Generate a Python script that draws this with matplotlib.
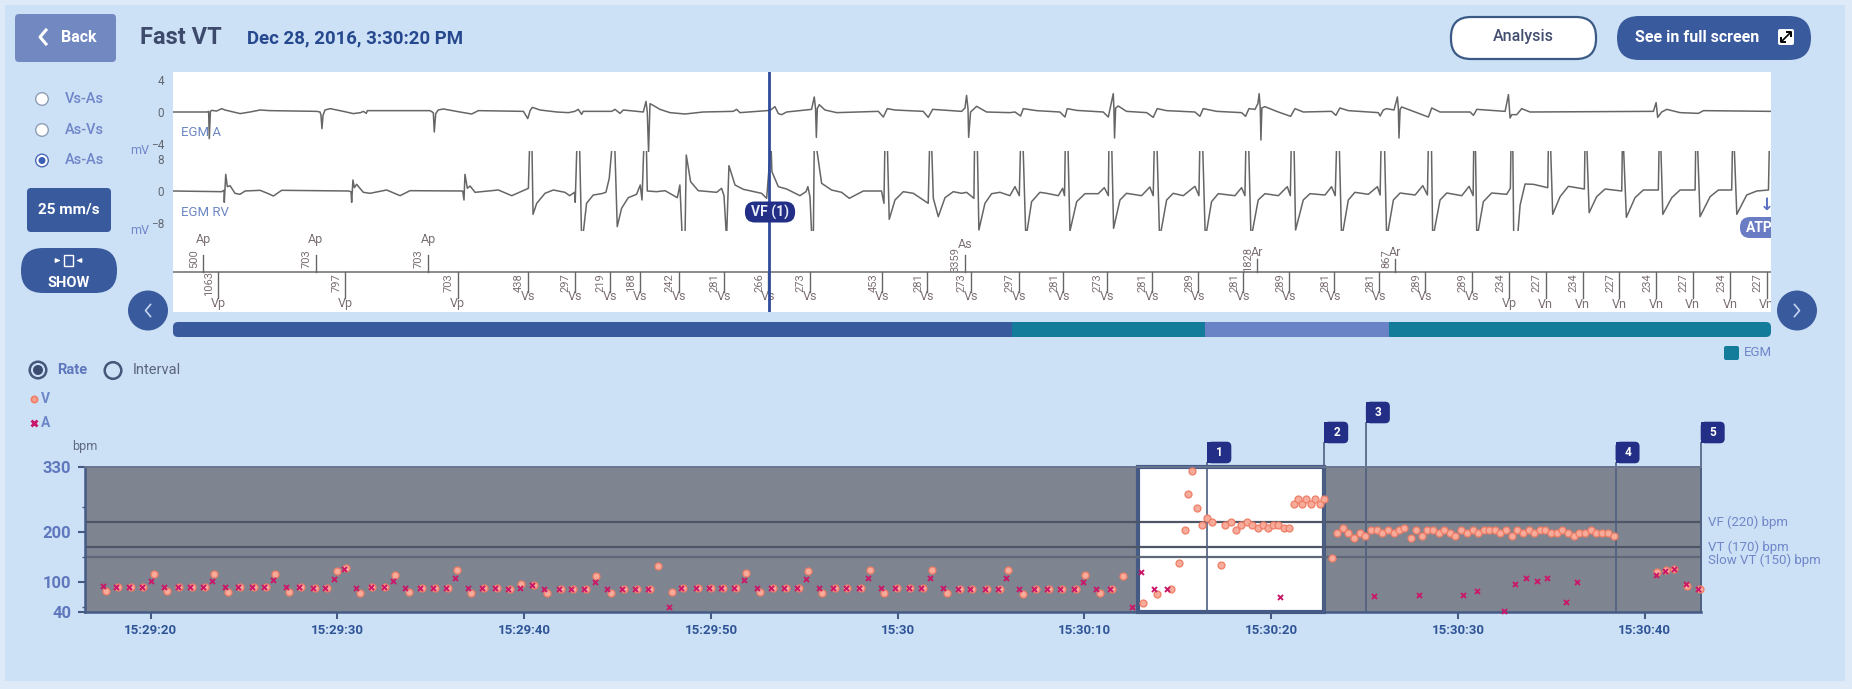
import matplotlib
matplotlib.use("Agg")
import matplotlib.pyplot as plt
from matplotlib.patches import FancyBboxPatch, Circle, Rectangle

plt.rcParams['font.family'] = ['Roboto', 'DejaVu Sans']

W, H = 1852, 689

# rate chart, seconds after 15:29:20
v_t = [-2.38, -1.75, -1.07, -.39, .15, .89, 1.54, 2.20, 2.88, 3.39, 4.16, 4.79, 5.51, 6.19, 6.68, 7.42, 8.05, 8.77, 9.45,
       9.95, 10.43, 11.18, 11.87, 12.57, 13.09, 13.83, 14.54, 15.22, 15.90, 16.39, 17.14, 17.85, 18.55, 19.23, 19.85,
       20.50, 21.23, 21.95, 22.62, 23.32, 23.86, 24.64, 25.35, 26.03, 26.71, 27.18, 27.94, 28.51, 29.32, 29.99, 30.65,
       31.33, 31.87, 32.61, 33.30, 34.02, 34.70, 35.20, 35.94, 36.63, 37.31, 38.01, 38.50, 39.27, 39.96, 40.68, 41.36,
       41.86, 42.62, 43.31, 43.99, 44.76, 45.48, 45.93, 46.69, 47.39, 48.11, 48.81, 49.53, 50.04, 50.81, 51.48, 52.04,
       53.12, 53.90, 54.62, 55.05, 55.36, 55.57, 55.77, 56.02, 56.29, 56.55, 56.82, 57.29, 57.55, 57.84, 58.12, 58.41,
       58.70, 58.98, 59.27, 59.55, 59.82, 60.11, 60.39, 60.68, 60.98, 61.20, 61.43, 61.66, 61.89, 62.12, 62.36, 62.59,
       62.82, 63.23, 63.53, 63.82, 64.12, 64.44, 64.75, 65.05, 65.34, 65.64, 65.94, 66.25, 66.55, 66.85, 67.12, 67.48,
       67.77, 68.07, 68.35, 68.66, 68.96, 69.27, 69.57, 69.86, 70.18, 70.48, 70.79, 71.09, 71.38, 71.68, 71.96, 72.27,
       72.57, 72.87, 73.18, 73.48, 73.79, 74.09, 74.37, 74.68, 74.98, 75.29, 75.59, 75.89, 76.20, 76.50, 76.80, 77.11,
       77.41, 77.71, 78.02, 78.34, 80.66, 81.16, 81.59, 82.27, 82.98]
v_bpm = [82, 90, 90, 90, 115, 81, 90, 90, 90, 115, 80, 89, 89, 89, 116, 80, 89, 88, 88,
         122, 128, 77, 89, 89, 114, 79, 87, 87, 87, 124, 78, 87, 87, 86, 96,
         93, 78, 86, 86, 86, 111, 78, 86, 86, 86, 131, 80, 87, 87, 88, 88,
         88, 117, 79, 87, 87, 87, 121, 78, 87, 87, 87, 124, 77, 87, 87, 87,
         124, 77, 85, 85, 85, 85, 124, 76, 85, 85, 86, 86, 113, 78, 85, 111,
         57, 75, 85, 137, 203, 275, 321, 248, 213, 227, 219, 133, 213, 220, 203, 213,
         220, 213, 208, 213, 208, 213, 213, 208, 208, 256, 265, 256, 265, 256, 265, 256,
         265, 148, 197, 208, 197, 187, 197, 192, 203, 203, 197, 203, 197, 203, 208, 187,
         203, 192, 203, 203, 197, 203, 197, 192, 203, 197, 203, 197, 203, 203, 203, 197,
         203, 192, 203, 197, 203, 197, 203, 203, 197, 197, 203, 197, 192, 197, 197, 203,
         197, 197, 197, 192, 119, 124, 126, 91, 85]
a_t = [-2.55, -1.85, -1.17, -.49, .04, .70, 1.44, 2.10, 2.78, 3.29, 3.97, 4.69, 5.41, 6.09, 6.57, 7.25, 7.95, 8.67, 9.35,
       9.84, 10.35, 11.01, 11.77, 12.47, 12.96, 13.64, 14.44, 15.12, 15.80, 16.29, 16.97, 17.75, 18.45, 19.13, 19.75,
       20.42, 21.08, 21.85, 22.52, 23.22, 23.78, 24.45, 25.25, 25.93, 26.61, 27.75, 28.41, 29.22, 29.89, 30.55, 31.23,
       31.76, 32.44, 33.20, 33.92, 34.60, 35.09, 35.77, 36.53, 37.21, 37.91, 38.40, 39.10, 39.86, 40.58, 41.26, 41.75,
       42.45, 43.21, 43.89, 44.66, 45.38, 45.82, 46.52, 47.29, 48.01, 48.71, 49.43, 49.94, 50.64, 51.38, 52.52, 53.01,
       53.73, 54.43, 60.48, 65.50, 67.89, 70.27, 71.0, 72.45, 73.07, 73.64, 74.23, 74.79, 75.79, 76.37, 80.59, 81.09,
       81.59, 82.2, 82.87]
a_bpm = [91, 90, 90, 90, 101, 89, 90, 90, 90, 101, 89, 89, 89, 89, 103, 89, 89, 88, 88,
         105, 125, 87, 89, 89, 101, 87, 87, 87, 87, 107, 87, 87, 87, 86, 87,
         93, 86, 86, 86, 86, 99, 86, 86, 86, 86, 49, 87, 87, 88, 88, 88,
         103, 87, 87, 87, 87, 105, 87, 87, 87, 87, 107, 87, 87, 87, 87, 107,
         87, 85, 85, 85, 85, 107, 85, 85, 85, 86, 86, 100, 86, 85, 50, 119,
         85, 85, 69, 71, 74, 73, 81, 41, 95, 107, 102, 107, 60, 100, 113, 122,
         126, 95, 86]
time_ticks = [0, 10, 20, 30, 40, 50, 60, 70, 80]
time_labels = ['15:29:20', '15:29:30', '15:29:40', '15:29:50', '15:30', '15:30:10', '15:30:20', '15:30:30', '15:30:40']
zone_bpm = [220, 170, 150]
zone_labels = ['VF (220) bpm', 'VT (170) bpm', 'Slow VT (150) bpm']
flag_t = [56.58, 62.84, 65.07, 78.44, 83.0]
flag_names = ['1', '2', '3', '4', '5']
sel_t = [52.86, 62.84]

# EGM strip, ms from the left edge of the strip
egm_a_ms = [2, 215, 223, 227, 234, 242, 273, 305, 325, 378, 420, 482, 545, 607, 899, 920, 926, 932, 939, 951, 983, 1066,
            1128, 1174, 1191, 1210, 1216, 1608, 1629, 1635, 1644, 1660, 1692, 1796, 1869, 1911, 2193, 2220, 2235, 2249,
            2297, 2401, 2474, 2515, 2536, 2557, 2567, 2745, 2766, 2797, 2818, 2943, 2960, 2968, 2976, 2985, 3005, 3047,
            3110, 3204, 3318, 3506, 3527, 3548, 3736, 3767, 3788, 3809, 3840, 3996, 4013, 4021, 4026, 4032, 4044, 4080,
            4153, 4414, 4445, 4470, 4518, 4695, 4726, 4754, 4935, 4956, 4966, 4975, 4979, 4991, 5029, 5091, 5237, 5269,
            5304, 5321, 5404, 5550, 5582, 5596, 5655, 5821, 5853, 5880, 5884, 5888, 5892, 5899, 5915, 5967, 6093, 6134,
            6159, 6218, 6395, 6426, 6447, 6531, 6687, 6712, 6733, 6771, 6789, 6797, 6804, 6808, 6814, 6833, 6906, 6994,
            7021, 7073, 7250, 7277, 7302, 7355, 7480, 7543, 7554, 7574, 7595, 7641, 7662, 7668, 7672, 7679, 7689, 7762,
            7856, 7877, 7929, 8117, 8138, 8159, 8336, 8357, 8367, 8378, 8409, 8440, 8492, 9264, 9281, 9291, 9316, 9348,
            9431, 9546, 9577, 9997]
egm_a_mv = [0, 0, .08, -3.33, .08, .2, .12, .42, .25, 0, -.2, 0, .25, .17, .08, 0, -.4, -2.08, -.4, .25, .42, .08,
            -.2, -.08, .08, -.17, .17, .17, -.08, -2.5, -.2, .25, .38, 0, -.25, .17, .08, -.83, .2, .58,
            .25, 0, -.08, .08, .33, -.29, .08, .08, .33, -.17, .25, 0, 1.33, 0, -5, 1.04, .83, .33,
            -.08, -.25, 0, .08, .33, -.08, .2, .67, -.2, -.33, 0, .33, 1.88, .42, -3.17, .42, .92, .25,
            -.08, .08, -.63, .42, .25, .08, -.67, .33, .08, .5, 2.08, .42, -3.17, 0, .71, 0, -.08, 0,
            -.5, .42, .17, 0, -.63, .42, .2, 0, -.63, 1.88, 2.29, .42, -3.25, .5, .75, .08, -.08, -.67,
            .42, .17, 0, -.54, .42, .08, -.08, -.54, .42, .33, 1.04, 2.29, .42, -3.5, .5, .67, .08, -.54,
            .42, 0, .08, -.42, .5, .17, 0, -.08, -.5, .25, .42, .25, 1.88, .42, -3.25, .33, .63, .08,
            -.63, .5, 0, 0, -.42, .33, .08, 2.17, -.75, -.33, -.33, .42, 0, .08, 1.17, -.67, 0, .33,
            -.08, -.17, .17, .08]
egm_rv_ms = [2, 304, 319, 321, 330, 340, 357, 388, 419, 451, 545, 597, 628, 680, 1097, 1114, 1118, 1126, 1135, 1149, 1191,
             1233, 1337, 1421, 1483, 1813, 1821, 1827, 1842, 1859, 1890, 2036, 2120, 2224, 2232, 2246, 2253, 2276, 2328,
             2380, 2453, 2482, 2513, 2517, 2528, 2544, 2557, 2563, 2588, 2630, 2682, 2709, 2730, 2749, 2764, 2780, 2807,
             2849, 2901, 2924, 2935, 2947, 2962, 2968, 3026, 3079, 3156, 3172, 3187, 3204, 3212, 3239, 3287, 3402, 3433,
             3448, 3464, 3479, 3517, 3569, 3683, 3715, 3742, 3748, 3788, 3840, 3923, 3961, 3973, 3986, 3998, 4007, 4013,
             4023, 4059, 4121, 4184, 4232, 4320, 4434, 4449, 4455, 4470, 4482, 4518, 4570, 4633, 4726, 4735, 4747, 4758,
             4789, 4831, 4883, 4935, 4966, 5012, 5016, 5033, 5043, 5081, 5123, 5175, 5237, 5269, 5296, 5304, 5319, 5337,
             5373, 5425, 5467, 5540, 5567, 5579, 5584, 5600, 5613, 5655, 5707, 5790, 5828, 5853, 5857, 5874, 5886, 5926,
             5967, 6061, 6113, 6134, 6141, 6157, 6174, 6218, 6259, 6322, 6395, 6420, 6426, 6443, 6460, 6499, 6541, 6645,
             6687, 6708, 6714, 6731, 6746, 6791, 6833, 6917, 6973, 6992, 6998, 7015, 7025, 7073, 7115, 7209, 7250, 7273,
             7282, 7298, 7313, 7355, 7396, 7480, 7537, 7554, 7560, 7581, 7595, 7637, 7679, 7773, 7821, 7850, 7856, 7875,
             7883, 7929, 7971, 8065, 8111, 8136, 8140, 8150, 8159, 8200, 8252, 8346, 8369, 8373, 8384, 8390, 8413, 8430,
             8461, 8513, 8603, 8607, 8620, 8634, 8680, 8732, 8832, 8836, 8847, 8862, 8909, 8962, 9066, 9070, 9076, 9095,
             9149, 9201, 9295, 9300, 9310, 9323, 9379, 9431, 9525, 9529, 9540, 9556, 9619, 9671, 9754, 9759, 9769, 9786,
             9848, 9911, 9984, 9990, 10000]
egm_rv_mv = [0, -.17, .17, -2.83, 4.17, 1.08, 1.33, -.58, -.83, 0, .17, -.67, -1.25, .17, 0, -.17, -2.83, 2.75, .83, 1.67, -.33,
             -.58, .25, -1.17, .08, 0, -2.25, 4.17, .67, 1.25, -.33, .25, -1.17, .67, 12, 12, -5.83, -3.08, -.58,
             .25, -.33, -1.17, -.33, -2.83, 12, 12, -12, -12, -3.08, -1, -.67, -.33, 3.17, 12, 12, -8.9, -4.33,
             -1.67, -.83, 1.5, -2.25, 12, 12, 0, -.17, .08, -1.67, 1.5, -12, -12, 9, 2.33, .08, -.33, .67,
             -1.17, -12, 6.33, 1.5, .42, -.58, -1.83, 12, 4.83, 1.08, .5, -1.17, -.17, 1.08, -1.42, -12, -12, 12,
             12, 1.92, .25, -.33, -1.83, 0, 0, -3.08, 12, 12, -7.08, -2.25, -.17, -.58, -3.08, 12, 12, -1.83,
             -6.42, -1.67, -.17, -.58, -.33, -1.83, 12, 12, -9.75, -3.08, -.67, -.33, -1.17, 1.08, -1.17, 12, 12, -12,
             -2.67, -.33, -.58, -1.17, .67, -1.17, 12, 12, -10, -2.67, -.67, -.67, .83, -1.17, 12, 12, -9.33, -2.25,
             -.58, -1.17, 1, -1.17, 12, 12, -12, -2.25, -.58, -1.17, 1.17, -1.17, 12, 12, -12, -2.67, -.67, -1.17,
             .83, -1.17, 12, 12, -12, -2.25, -.67, -1.17, 1.08, -1.17, 12, 12, -9.75, -2.25, -.67, -1, 1.08, -1.17,
             12, 12, -12, -2.25, -.33, -.83, 1.08, -1, 12, 12, -12, -2.25, -.5, -1, 1.33, -1, 12, 12,
             -12, -2.25, -.5, -1.17, 1.17, -1.17, 12, 12, -12, -2.67, -.5, -.83, .67, 12, 12, -12, -12, -3.5,
             1.75, 1.67, .83, 12, 12, -5.83, -1.42, 1.17, .5, 12, 12, -5.42, -1.42, .5, 0, 12, 12, -6.58,
             -1.67, .25, .25, 12, 12, -5.83, -1.67, .25, .25, 12, 12, -6.42, -1.42, .25, .25, 12, 12, -5.83,
             -1, 0, .25, 12, 12]

atrial_ms = [190, 893, 1596, 4956, 6783, 7650]
atrial_iv = ['500', '703', '703', '3359', '1828', '867']
atrial_lab = ['Ap', 'Ap', 'Ap', 'As', 'Ar', 'Ar']
vent_ms = [284, 1078, 1781, 2220, 2515, 2734, 2922, 3164, 3446, 3725, 3984, 4439, 4720, 4993, 5292, 5571, 5844, 6126,
           6416, 6698, 6985, 7267, 7547, 7837, 8127, 8363, 8590, 8822, 9049, 9283, 9510, 9744, 9973]
vent_iv = ['1063', '797', '703', '438', '297', '219', '188', '242', '281', '266', '273', '453', '281', '273', '297', '281',
           '273', '281', '289', '281', '289', '281', '281', '289', '289', '234', '227', '234', '227', '234', '227', '234', '227']
vent_lab = ['Vp', 'Vp', 'Vp'] + ['Vs'] * 22 + ['Vp'] + ['Vn'] * 7
cursor_ms = 3729

BLUE = '#3a5a9e'
NAVY = '#232f86'
LIGHT = '#6f86c9'
NARROW = ['Liberation Sans Narrow', 'Roboto']


def px_axes(left, top, right, bottom, **kw):
    return fig.add_axes([left / W, 1 - bottom / H, (right - left) / W, (bottom - top) / H], **kw)


def pill(ax, x, y, w, h, r, color, aspect=1.0, ec='none', lw=0, z=3):
    p = FancyBboxPatch((x, y), w, h, boxstyle=f"round,pad=0,rounding_size={r}", fc=color, ec=ec, lw=lw,
                       mutation_aspect=aspect, zorder=z)
    ax.add_patch(p)
    return p


fig = plt.figure(figsize=(W / 100, H / 100), dpi=100, facecolor='#dfeaf8')

bg = px_axes(0, 0, W, H, zorder=0)
bg.set_xlim(0, W)
bg.set_ylim(H, 0)
bg.axis('off')
bg.add_patch(Rectangle((5, 5), 1840, 676, fc='#cde1f6', ec='none'))

# header
pill(bg, 15, 14, 101, 48, 4, '#7189c0')
bg.plot([46, 40, 46], [30, 37, 44], color='white', lw=2.2, zorder=5)
bg.text(79, 37, 'Back', color='white', fontsize=11.5, fontweight='bold', ha='center', va='center', zorder=5)
bg.text(140, 38, 'Fast VT', color='#3d4a6b', fontsize=17, fontweight='bold', va='center')
bg.text(247, 38, 'Dec 28, 2016, 3:30:20 PM', color='#25488f', fontsize=13.4, fontweight='bold', va='center')
pill(bg, 1451, 17, 145, 42, 20, 'white', ec='#3a5a85', lw=1.6)
bg.text(1523, 37, 'Analysis', color='#444f70', fontsize=11.5, fontweight='medium', ha='center', va='center', zorder=5)
pill(bg, 1617, 16, 194, 44, 22, BLUE)
bg.text(1635, 37, 'See in full screen', color='white', fontsize=11.5, fontweight='bold', va='center', zorder=5)
pill(bg, 1778, 29, 16, 16, 2, 'white', z=4)
bg.plot([1782, 1790], [41, 33], color='black', lw=1.2, zorder=5)
bg.plot([1787, 1791, 1791], [32, 32, 36], color='black', lw=1.4, zorder=5)
bg.plot([1781, 1781, 1785], [38, 42, 42], color='black', lw=1.4, zorder=5)

# left controls
for y, name, on in [(99, 'Vs-As', False), (130, 'As-Vs', False), (160.5, 'As-As', True)]:
    bg.add_patch(Circle((42, y), 6.3, fc='white', ec='#4a6bb5' if on else '#8f9db5', lw=1))
    if on:
        bg.add_patch(Circle((42, y), 3.5, fc='#3a5fb5', ec='none'))
    bg.text(65, y, name, color=LIGHT, fontsize=10.5, fontweight='medium', va='center')
pill(bg, 27, 188, 84, 44, 4, BLUE)
bg.text(69, 210, '25 mm/s', color='white', fontsize=11, fontweight='bold', ha='center', va='center', zorder=5)
pill(bg, 21, 248, 96, 45, 22, BLUE)
bg.add_patch(Rectangle((64, 255), 9, 11, fc='none', ec='white', lw=1, zorder=5))
bg.annotate('', xy=(63, 260.5), xytext=(56, 260.5), arrowprops=dict(arrowstyle='-|>', color='white', lw=1, mutation_scale=6), zorder=5)
bg.annotate('', xy=(74, 260.5), xytext=(81, 260.5), arrowprops=dict(arrowstyle='-|>', color='white', lw=1, mutation_scale=6), zorder=5)
bg.text(69, 283, 'SHOW', color='white', fontsize=10.5, fontweight='bold', ha='center', va='center', zorder=5)
bg.text(140, 151, 'mV', color=LIGHT, fontsize=9, ha='center', va='center')
bg.text(140, 231, 'mV', color=LIGHT, fontsize=9, ha='center', va='center')

# nav buttons and scrollbar
for cx, sign in [(148, -1), (1797, 1)]:
    bg.add_patch(Circle((cx, 310.5), 20, fc=BLUE, ec='none'))
    bg.plot([cx - 2.5 * sign, cx + 2.5 * sign, cx - 2.5 * sign], [304.5, 310.5, 316.5], color='#c5d4ef', lw=1.2)
pill(bg, 173, 322, 850, 15, 5, BLUE)
pill(bg, 1012, 322, 759, 15, 5, '#127c9a', z=4)
bg.add_patch(Rectangle((1012, 322), 20, 15, fc='#127c9a', ec='none', zorder=4))
bg.add_patch(Rectangle((1205, 322), 184, 15, fc='#6a82c6', ec='none', zorder=5))
pill(bg, 1724, 346, 15, 14, 2, '#127c9a')
bg.text(1744, 353, 'EGM', color=LIGHT, fontsize=9.5, va='center')

# rate selector and legend
bg.add_patch(Circle((38, 370), 8.3, fc='none', ec='#46587a', lw=1.8))
bg.add_patch(Circle((38, 370), 5, fc='#3c4c70', ec='none'))
bg.text(57, 369.5, 'Rate', color='#5f78bd', fontsize=10.5, fontweight='bold', va='center')
bg.add_patch(Circle((113, 370.5), 8.3, fc='none', ec='#46587a', lw=1.8))
bg.text(133, 370, 'Interval', color='#5b6580', fontsize=10.5, va='center')
bg.plot([33.6], [398.7], 'o', ms=4.5, mfc='#f4a08f', mec='#f07d66', mew=1.2)
bg.text(41, 398.7, 'V', color='#6d86c8', fontsize=10, fontweight='bold', va='center')
bg.plot([33.6], [422.7], 'x', ms=4.5, mec='#c9186a', mew=2)
bg.text(41, 422.7, 'A', color='#6d86c8', fontsize=10, fontweight='bold', va='center')
bg.text(72, 446.7, 'bpm', color='#5f6a80', fontsize=9, va='center')

# strip: base axes holds the event markers, overlays hold the two EGM channels
S_L, S_T, S_R, S_B = 173, 72, 1771, 312
ms_per_px = 10000 / (S_R - S_L)
strip = px_axes(S_L, S_T, S_R, S_B, zorder=2, facecolor='white')
strip.set_xlim(0, 10000)
strip.set_ylim(-40, 200)
strip.axis('off')
strip.add_patch(Rectangle((0, -40), 10000, 240, fc='white', ec='none', zorder=0))
strip.axhline(0, color='#8a8a8a', lw=1.4)

tick_up = {'Ap': 17, 'As': 17, 'Ar': 13}
lab_up = {'Ap': 32, 'As': 27, 'Ar': 20}
for x, iv, lab in zip(atrial_ms, atrial_iv, atrial_lab):
    strip.plot([x, x], [0, tick_up[lab]], color='#666666', lw=1)
    strip.text(x, lab_up[lab], lab, color='#7b6f74', fontsize=9, family=NARROW, ha='center', va='center')
    strip.text(x - 9 * ms_per_px, 13, iv, color='#7b6f74', fontsize=8, family=NARROW, rotation=90, ha='center', va='center')
for x, iv, lab in zip(vent_ms, vent_iv, vent_lab):
    depth, ly = (20, -25) if lab == 'Vs' else (26, -32)
    strip.plot([x, x], [0, -depth], color='#666666', lw=1)
    strip.text(x, ly, lab, color='#7b6f74', fontsize=9, family=NARROW, ha='center', va='center', clip_on=True)
    strip.text(x - 9 * ms_per_px, -11, iv, color='#7b6f74', fontsize=8, family=NARROW, rotation=90, ha='center', va='center')

egm_a = px_axes(S_L, 72, S_R, 152, zorder=3)
egm_a.patch.set_visible(False)
egm_a.plot(egm_a_ms, egm_a_mv, color='#666666', lw=1.1)
egm_a.set_xlim(0, 10000)
egm_a.set_ylim(-5, 5)
egm_a.set_yticks([4, 0, -4])
egm_a.text(47, -2.6, 'EGM A', color='#6e88c4', fontsize=9.5, va='center')

egm_rv = px_axes(S_L, 151, S_R, 231, zorder=3)
egm_rv.patch.set_visible(False)
egm_rv.plot(egm_rv_ms, egm_rv_mv, color='#666666', lw=1.1)
egm_rv.set_xlim(0, 10000)
egm_rv.set_ylim(-10, 10)
egm_rv.set_yticks([8, 0, -8])
egm_rv.text(47, -5.4, 'EGM RV', color='#6e88c4', fontsize=9.5, va='center')

for ax in (egm_a, egm_rv):
    for s in ax.spines.values():
        s.set_visible(False)
    ax.set_xticks([])
    ax.tick_params(axis='y', length=0, pad=6.5, labelsize=8.5, labelcolor='#5f6670')

over = px_axes(S_L, S_T, S_R, S_B, zorder=4)
over.patch.set_visible(False)
over.axis('off')
over.set_xlim(0, 10000)
over.set_ylim(-40, 200)
over.axvline(cursor_ms, color='#2f4a9a', lw=2)
pill(over, 3736 - 157, 49.5, 314, 21, 10 * ms_per_px, NAVY, aspect=1 / ms_per_px, z=5)
over.text(3736, 60, 'VF (1)', color='#e8ecf8', fontsize=10, fontweight='bold', ha='center', va='center', zorder=6)
pill(over, 9806, 34, 500, 21, 10 * ms_per_px, '#6a7cc4', aspect=1 / ms_per_px, z=5)
over.text(9925, 44.5, 'ATP', color='white', fontsize=10, fontweight='bold', ha='center', va='center', zorder=6, clip_on=True)
over.text(9975, 67, '↓', color='#5a6fc0', fontsize=12, fontweight='bold', family=['DejaVu Sans'], ha='center', va='center', clip_on=True)

# rate chart
rate = px_axes(85, 466.7, 1700.7, 611.7, zorder=2, facecolor='#7f8590')
rate.set_xlim(-3.52, 83.0)
rate.set_ylim(40, 330)
rate.axvspan(sel_t[0], sel_t[1], fc='white', ec='#455a85', lw=3, zorder=1, clip_on=False)
rate.hlines(zone_bpm, -3.52, 83.0, colors=['#4d5566', '#4d5566', '#5f6778'], lw=1.6, zorder=2)
for t, name, up in zip(flag_t, flag_names, [3.4, 23.4, 43.4, 3.4, 23.4]):
    top = 330 + 2 * up
    rate.plot([t, t], [40, top], color='#4f5f80', lw=1.2, zorder=2, clip_on=False)
    rate.add_patch(FancyBboxPatch((t, top), 1.285, 43.2, boxstyle="round,pad=0,rounding_size=0.25", fc=NAVY, ec='none',
                                  mutation_aspect=37.3, clip_on=False, zorder=6))
    rate.add_patch(Rectangle((t, top), 0.5, 43.2, fc=NAVY, ec='none', clip_on=False, zorder=6))
    rate.text(t + 0.66, top + 21.6, name, color='white', fontsize=8.5, fontweight='bold', ha='center', va='center', zorder=7, clip_on=False)
rate.plot(v_t, v_bpm, 'o', ms=5, mfc='#f6ab9b', mec='#f07d66', mew=0.9, clip_on=False, zorder=4)
rate.plot(a_t, a_bpm, 'x', ms=3.6, mec='#c9186a', mew=1.4, clip_on=False, zorder=5)

rate.set_xticks(time_ticks, time_labels)
rate.set_yticks([40, 100, 200, 330])
rate.set_yticks([50, 150, 250], minor=True)
rate.tick_params(axis='x', length=5, width=1.5, color='#455a85', labelcolor='#2f5597', labelsize=9.5, pad=4)
rate.tick_params(axis='y', length=5, width=1.5, color='#455a85', labelcolor='#5f78bd', labelsize=12, pad=5)
rate.tick_params(axis='y', which='minor', length=2, width=1, color='#455a85')
for lab in rate.get_xticklabels() + rate.get_yticklabels():
    lab.set_fontweight('bold')
rate.spines['top'].set_color('#6a7590')
rate.spines['top'].set_linewidth(1.4)
rate.spines['right'].set_color('#4f5f80')
rate.spines['right'].set_linewidth(1.2)
for side in ('left', 'bottom'):
    rate.spines[side].set_color('#455a85')
    rate.spines[side].set_linewidth(1.8)
for y, lab in zip([522.7, 547.7, 560], zone_labels):
    bg.text(1708, y, lab, color=LIGHT, fontsize=9.5, va='center', zorder=5)

fig.savefig('out.png', dpi=100, facecolor=fig.get_facecolor())
